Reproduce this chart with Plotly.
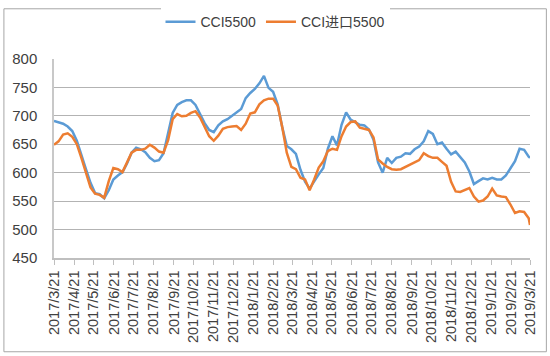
import pandas as pd
import plotly.graph_objects as go

# Weekly observation dates (2017/3/21 .. 2019/3/19) plus the final day 2019/3/21
dates = list(pd.date_range("2017-03-21", periods=105, freq="7D").strftime("%Y-%m-%d")) + ["2019-03-21"]

cci5500 = [
    691, 689, 686, 681, 673, 656, 629, 606, 582, 564,
    562, 555, 569, 588, 595, 601, 616, 635, 644, 641,
    636, 626, 620, 622, 634, 668, 705, 719, 724, 727,
    727, 719, 704, 687, 675, 671, 683, 690, 694, 700,
    705, 712, 731, 740, 747, 757, 770, 749, 742, 720,
    680, 647, 641, 633, 605, 584, 572, 585, 597, 608,
    642, 664, 648, 684, 706, 693, 688, 684, 683, 676,
    658, 618, 600, 626, 617, 626, 628, 634, 633, 641,
    646, 655, 673, 668, 650, 653, 642, 632, 637, 628,
    618, 602, 580, 585, 590, 588, 591, 588, 588, 595,
    608, 620, 642, 640, 628, 626,
]

cci_import5500 = [
    649, 655, 667, 669, 663, 650, 626, 602, 574, 563,
    561, 556, 585, 608, 606, 601, 617, 635, 640, 640,
    642, 649, 644, 637, 635, 657, 694, 703, 699, 700,
    705, 708, 697, 680, 664, 656, 665, 677, 680, 681,
    682, 675, 686, 704, 706, 720, 727, 730, 730, 718,
    680, 635, 610, 606, 591, 588, 569, 588, 609, 620,
    638, 642, 640, 664, 681, 689, 690, 679, 677, 675,
    662, 623, 616, 610, 606, 605, 606, 610, 614, 617,
    622, 634, 629, 626, 626, 619, 612, 584, 567, 566,
    569, 573, 558, 549, 551, 558, 572, 560, 558, 557,
    544, 529, 532, 531, 520, 508,
]

tick_dates = [
    "2017-03-21", "2017-04-21", "2017-05-21", "2017-06-21", "2017-07-21",
    "2017-08-21", "2017-09-21", "2017-10-21", "2017-11-21", "2017-12-21",
    "2018-01-21", "2018-02-21", "2018-03-21", "2018-04-21", "2018-05-21",
    "2018-06-21", "2018-07-21", "2018-08-21", "2018-09-21", "2018-10-21",
    "2018-11-21", "2018-12-21", "2019-01-21", "2019-02-21", "2019-03-21",
]
tick_labels = [
    "2017/3/21", "2017/4/21", "2017/5/21", "2017/6/21", "2017/7/21",
    "2017/8/21", "2017/9/21", "2017/10/21", "2017/11/21", "2017/12/21",
    "2018/1/21", "2018/2/21", "2018/3/21", "2018/4/21", "2018/5/21",
    "2018/6/21", "2018/7/21", "2018/8/21", "2018/9/21", "2018/10/21",
    "2018/11/21", "2018/12/21", "2019/1/21", "2019/2/21", "2019/3/21",
]

FONT = "Liberation Sans, Arial, Noto Sans CJK SC, sans-serif"
TXT = "#404040"

fig = go.Figure()
fig.add_trace(go.Scatter(x=dates, y=cci5500, mode="lines", name="CCI5500",
                         line=dict(color="#5B9BD5", width=2.5)))
fig.add_trace(go.Scatter(x=dates, y=cci_import5500, mode="lines", name="CCI进口5500",
                         line=dict(color="#ED7D31", width=2.5)))

fig.update_layout(
    width=550, height=356,
    margin=dict(l=52, r=18, t=53, b=98),
    paper_bgcolor="white", plot_bgcolor="white",
    font=dict(family=FONT, size=15, color=TXT),
    showlegend=True,
    legend=dict(orientation="h", xref="container", yref="container",
                x=0.5, xanchor="center", y=0.938, yanchor="middle",
                font=dict(family=FONT, size=14, color=TXT),
                itemwidth=30, tracegroupgap=0),
    xaxis=dict(type="date", range=["2017-03-21", "2019-03-21"],
               tickmode="array", tickvals=tick_dates, ticktext=tick_labels,
               tickangle=-90, ticks="outside", ticklen=5, tickcolor="#bfbfbf",
               showgrid=False, showline=True, linecolor="#bfbfbf", linewidth=1.5,
               tickfont=dict(family=FONT, size=14.5, color=TXT)),
    yaxis=dict(range=[450, 800], dtick=50, tick0=450,
               showgrid=True, gridcolor="#b3b3b3", gridwidth=1,
               showline=True, linecolor="#c8c8c8", linewidth=1.5,
               ticks="", ticklabelstandoff=12, zeroline=False,
               tickfont=dict(family=FONT, size=15, color=TXT)),
    shapes=[dict(type="rect", xref="paper", yref="paper",
                 x0=(1.5 - 52) / 480, x1=(548.5 - 52) / 480,
                 y0=(258 - 354.5) / 205, y1=(258 - 1.5) / 205,
                 line=dict(color="#a6a6a6", width=1), fillcolor="rgba(0,0,0,0)",
                 layer="below")],
)

fig.write_html("out.html", config={"displayModeBar": False},
               post_script="document.body.style.margin='0px';")
